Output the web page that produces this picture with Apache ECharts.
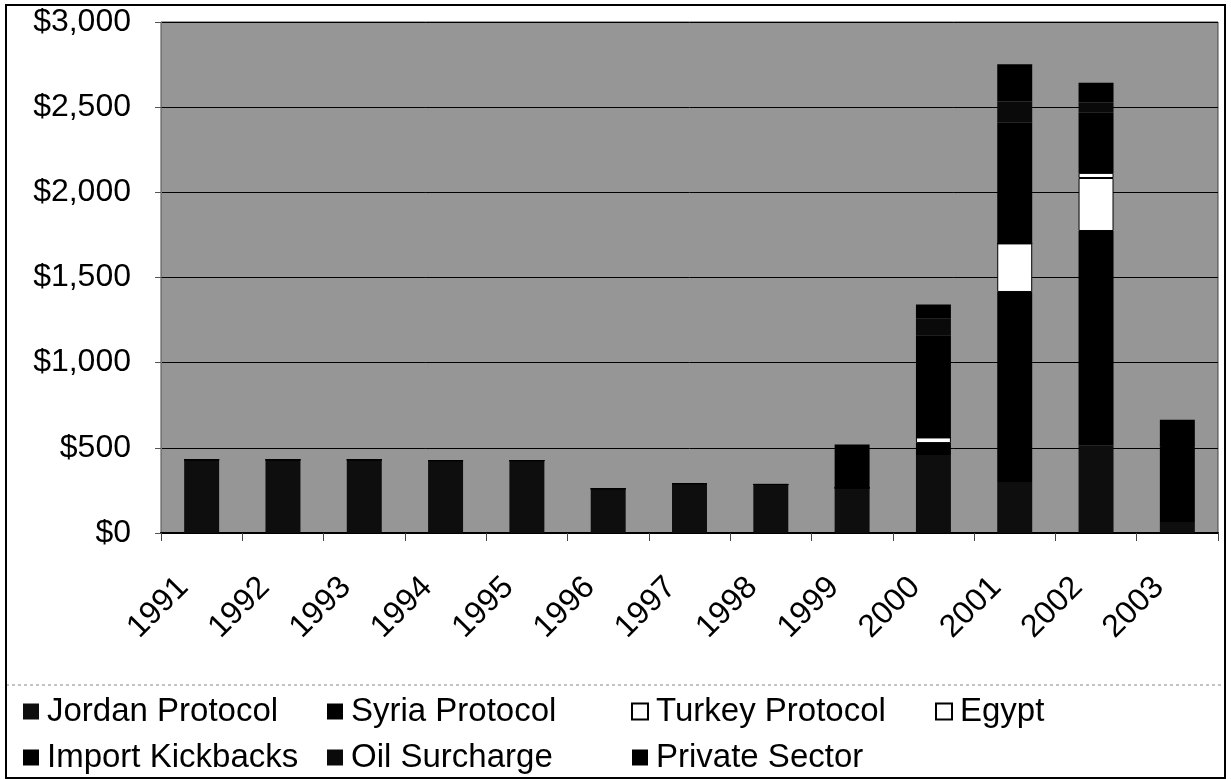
<!DOCTYPE html>
<html>
<head>
<meta charset="utf-8">
<title>Illicit income by year</title>
<script src="https://cdn.jsdelivr.net/npm/echarts@6/dist/echarts.min.js"></script>
<style>
  html, body { margin: 0; padding: 0; background: #fff; }
</style>
</head>
<body>
<div id="BarChart" style="width: 1231px;height:780px;"></div>
<script>
// 数据 - 按年份，堆叠顺序从下到上
var years = ["1991", "1992", "1993", "1994", "1995", "1996", "1997", "1998", "1999", "2000", "2001", "2002", "2003"];
var jordanProtocol = [430, 430, 430, 425, 425, 260, 290, 285, 265, 458, 300, 515, 65];
var syriaProtocol = [0, 0, 0, 0, 0, 0, 0, 0, 0, 70, 1115, 1258, 440];
var turkeyProtocol = [0, 0, 0, 0, 0, 0, 0, 0, 0, 33, 285, 311, 8];
var egypt = [0, 0, 0, 0, 0, 0, 0, 0, 0, 0, 0, 30, 0];
var importKickbacks = [0, 0, 0, 0, 0, 0, 0, 0, 255, 600, 709, 353, 152];
var oilSurcharge = [0, 0, 0, 0, 0, 0, 0, 0, 0, 100, 124, 60, 0];
var privateSector = [0, 0, 0, 0, 0, 0, 0, 0, 0, 80, 219, 117, 0];
var yTicks = [0, 500, 1000, 1500, 2000, 2500, 3000];

var font = "Liberation Sans, Arial, sans-serif";

var myChart = echarts.init(document.getElementById("BarChart"));

function barSeries(name, data, color, border) {
  return {
    name: name,
    type: "bar",
    stack: "total",
    barWidth: "43%",
    itemStyle: {
      color: color,
      borderColor: border ? "#000" : color,
      borderWidth: border ? 1 : 0
    },
    emphasis: { disabled: true },
    data: data
  };
}

function legendCol(items, left) {
  return {
    orient: "vertical",
    left: left,
    top: 690,
    itemGap: 13,
    itemWidth: 16,
    itemHeight: 16,
    icon: "rect",
    selectedMode: false,
    textStyle: { color: "#000", fontSize: 33, fontFamily: font, padding: [0, 0, 0, 3] },
    data: items
  };
}

var option = {
  animation: false,
  backgroundColor: "#fff",
  grid: {
    left: 161,
    right: 13,
    top: 22,
    bottom: 247,
    show: true,
    backgroundColor: "#969696",
    borderColor: "#444",
    borderWidth: 1
  },
  legend: [
    legendCol(["Jordan Protocol", "Import Kickbacks"], 18),
    legendCol(["Syria Protocol", "Oil Surcharge"], 322),
    legendCol(["Turkey Protocol", "Private Sector"], 626),
    legendCol(["Egypt"], 930)
  ],
  xAxis: {
    type: "category",
    data: years,
    axisLine: { lineStyle: { color: "#000", width: 2 } },
    axisTick: { show: true, length: 8, lineStyle: { color: "#444" } },
    axisLabel: {
      rotate: 45,
      margin: 31,
      padding: [0, 26, 0, 0],
      color: "#000",
      fontSize: 32,
      fontFamily: font
    },
    splitLine: { show: false }
  },
  yAxis: {
    type: "value",
    min: yTicks[0],
    max: yTicks[yTicks.length - 1],
    interval: 500,
    axisLine: { show: true, lineStyle: { color: "#777", type: "dotted" } },
    axisTick: { show: true, length: 6, lineStyle: { color: "#555" } },
    axisLabel: {
      margin: 30,
      color: "#000",
      fontSize: 32,
      fontFamily: font,
      formatter: function (v) {
        return "$" + v.toLocaleString("en-US");
      }
    },
    splitLine: { show: true, lineStyle: { color: "#000", width: 1 } }
  },
  graphic: [
    {
      // 图例上方的分隔线
      type: "line",
      shape: { x1: 6, y1: 685, x2: 1225, y2: 685 },
      style: { stroke: "#888", lineWidth: 1, lineDash: [3, 3] }
    },
    {
      // 外框
      type: "rect",
      shape: { x: 6, y: 5, width: 1219, height: 773 },
      style: { fill: "none", stroke: "#000", lineWidth: 2 }
    }
  ],
  series: [
    barSeries("Jordan Protocol", jordanProtocol, "#0e0e0e", false),
    barSeries("Syria Protocol", syriaProtocol, "#000", false),
    barSeries("Turkey Protocol", turkeyProtocol, "#fff", true),
    barSeries("Egypt", egypt, "#fff", true),
    barSeries("Import Kickbacks", importKickbacks, "#000", false),
    barSeries("Oil Surcharge", oilSurcharge, "#0a0a0a", false),
    barSeries("Private Sector", privateSector, "#000", false)
  ]
};

myChart.setOption(option);
</script>
</body>
</html>
